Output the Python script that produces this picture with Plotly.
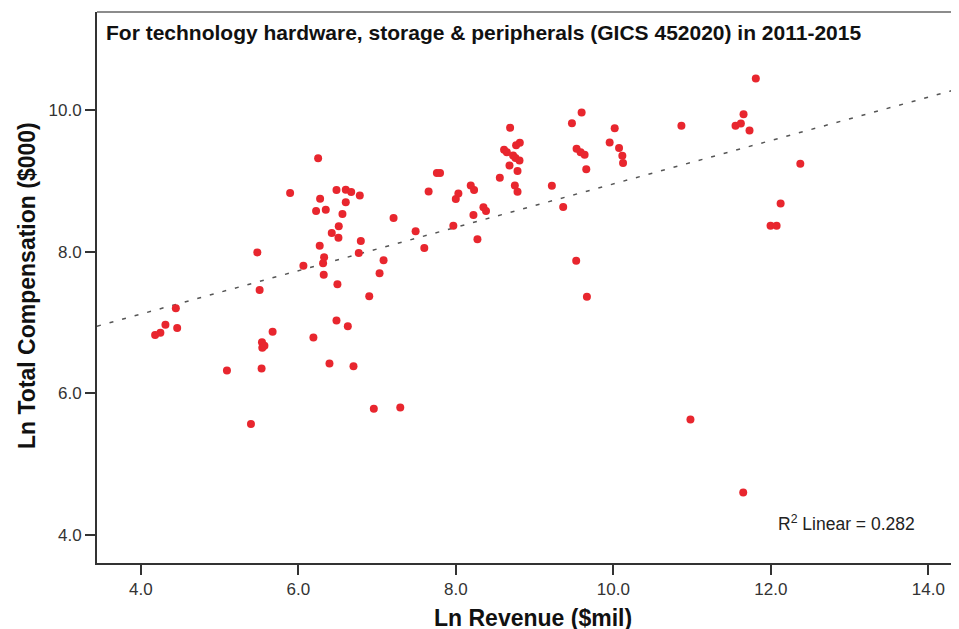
import numpy as np
import plotly.graph_objects as go

# Ln Revenue ($mil) and Ln Total Compensation ($000)
ln_revenue = [
    6.252, 5.896, 6.277, 6.226, 6.349, 6.485, 6.603, 6.672, 6.781, 6.603,
    6.561, 6.514, 6.425, 6.510, 6.272, 6.794, 6.768, 6.328, 6.315, 6.065,
    6.323, 6.497, 6.901, 7.032, 7.083, 7.210, 5.480, 5.509, 4.445, 7.490,
    7.600, 7.655, 7.760, 7.800, 8.000, 8.033, 7.969, 8.190, 8.232, 8.224,
    8.275, 6.485,
    4.313, 4.249, 4.182, 4.462, 5.094, 5.539, 5.543, 5.570, 5.674, 5.534,
    5.399, 6.192, 6.396, 6.629, 6.701, 6.959, 7.295,
    11.810, 11.654, 11.552, 11.620, 11.730, 10.865, 12.375, 12.125, 11.997, 12.074,
    10.018, 9.954, 10.073, 10.115, 10.124, 9.598, 9.475, 9.534, 9.585, 9.636,
    9.657, 9.220, 9.364, 9.529, 9.665, 8.690, 8.613, 8.648, 8.766, 8.813,
    8.728, 8.758, 8.809, 8.682, 8.784, 8.559, 8.750, 8.784, 8.351, 8.384,
    10.980, 11.650,
]
ln_compensation = [
    9.320, 8.830, 8.748, 8.574, 8.593, 8.871, 8.875, 8.843, 8.796, 8.700,
    8.532, 8.358, 8.264, 8.197, 8.085, 8.151, 7.981, 7.921, 7.836, 7.802,
    7.675, 7.539, 7.370, 7.695, 7.878, 8.475, 7.990, 7.459, 7.200, 8.288,
    8.052, 8.852, 9.111, 9.111, 8.744, 8.824, 8.367, 8.937, 8.871, 8.518,
    8.175, 7.026,
    6.969, 6.856, 6.824, 6.923, 6.320, 6.720, 6.644, 6.670, 6.870, 6.348,
    5.563, 6.786, 6.419, 6.946, 6.380, 5.779, 5.797,
    10.448, 9.944, 9.779, 9.813, 9.714, 9.779, 9.242, 8.683, 8.367, 8.367,
    9.746, 9.544, 9.464, 9.355, 9.252, 9.968, 9.817, 9.454, 9.407, 9.369,
    9.167, 8.932, 8.631, 7.873, 7.364, 9.751, 9.440, 9.407, 9.506, 9.539,
    9.360, 9.323, 9.290, 9.220, 9.139, 9.045, 8.937, 8.847, 8.627, 8.574,
    5.628, 4.597,
]

x_ticks = [4, 6, 8, 10, 12, 14]
x_tick_labels = ["4.0", "6.0", "8.0", "10.0", "12.0", "14.0"]
y_ticks = [4, 6, 8, 10]
y_tick_labels = ["4.0", "6.0", "8.0", "10.0"]

title_text = "For technology hardware, storage &amp; peripherals (GICS 452020) in 2011-2015"
x_title = "Ln Revenue ($mil)"
y_title = "Ln Total Compensation ($000)"
r2_text = "R<sup>2</sup> Linear = 0.282"

x_range = [3.444, 14.39]
y_range = [3.60, 11.388]

# linear fit line through the data
slope, intercept = np.polyfit(ln_revenue, ln_compensation, 1)
fit_x = np.array(x_range)
fit_y = intercept + slope * fit_x

FONT = "Liberation Sans, Arial, sans-serif"
# the page body has an 8px margin, so the figure is drawn 8px in from the top-left
OFF = 8
W, H = 959 - OFF, 629 - OFF
ML, MR, MT, MB = 97 - OFF, 0, 12 - OFF, 629 - 563


def px_to_paper(px, py):
    px, py = px - OFF, py - OFF
    return (px - ML) / (W - ML - MR), (H - MB - py) / (H - MT - MB)


fig = go.Figure()
fig.add_trace(go.Scatter(
    x=fit_x, y=fit_y, mode="lines",
    line=dict(color="#555555", width=1.5, dash="4px,9px"),
    hoverinfo="skip", showlegend=False,
))
fig.add_trace(go.Scatter(
    x=ln_revenue, y=ln_compensation, mode="markers",
    marker=dict(color="#e8262e", size=8, line=dict(width=0)),
    showlegend=False,
))

# R^2 label
ax, ay = px_to_paper(846.5, 523)
fig.add_annotation(
    x=ax, y=ay, xref="paper", yref="paper", text=r2_text, showarrow=False,
    font=dict(family=FONT, size=17.5, color="#222222"), xanchor="center", yanchor="middle",
)
# chart title inside the frame
ax, ay = px_to_paper(104, 33)
fig.add_annotation(
    x=ax, y=ay, xref="paper", yref="paper",
    text="<b>" + title_text + "</b>", showarrow=False,
    font=dict(family=FONT, size=21, color="#111111"), xanchor="left", yanchor="middle",
)
# axis titles
ax, ay = px_to_paper(533, 618)
fig.add_annotation(
    x=ax, y=ay, xref="paper", yref="paper",
    text="<b>" + x_title + "</b>", showarrow=False,
    font=dict(family=FONT, size=23, color="#111111"), xanchor="center", yanchor="middle",
)
ax, ay = px_to_paper(27, 286)
fig.add_annotation(
    x=ax, y=ay, xref="paper", yref="paper",
    text="<b>" + y_title + "</b>", showarrow=False, textangle=-90,
    font=dict(family=FONT, size=23, color="#111111"), xanchor="center", yanchor="middle",
)

fig.add_shape(type="line", xref="paper", yref="paper", x0=0, x1=1, y0=1, y1=1,
              line=dict(color="#8c8c8c", width=2))

fig.update_layout(
    width=W, height=H,
    margin=dict(l=ML, r=MR, t=MT, b=MB, autoexpand=False),
    paper_bgcolor="white", plot_bgcolor="white",
    font=dict(family=FONT, color="#222222"),
    xaxis=dict(
        range=x_range, tickvals=x_ticks, ticktext=x_tick_labels, automargin=False,
        showgrid=False, zeroline=False, showline=True, linecolor="#333333", linewidth=2,
        ticks="outside", ticklen=10, tickwidth=2, tickcolor="#333333",
        tickfont=dict(family=FONT, size=17, color="#333333"),
    ),
    yaxis=dict(
        range=y_range, tickvals=y_ticks, ticktext=y_tick_labels, automargin=False,
        showgrid=False, zeroline=False, showline=True, linecolor="#333333", linewidth=2,
        ticks="outside", ticklen=10, tickwidth=2, tickcolor="#333333",
        tickfont=dict(family=FONT, size=17, color="#333333"),
    ),
)

fig.write_html("out.html")
